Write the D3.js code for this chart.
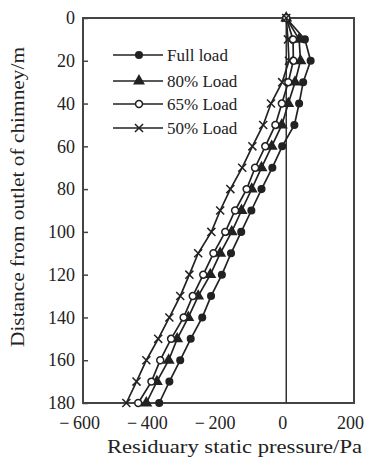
<!DOCTYPE html>
<html>
<head>
<meta charset="utf-8">
<script src="https://cdn.jsdelivr.net/npm/d3@7"></script>
<style>
  body { margin: 0; background: #fff; }
  svg { display: block; font-family: "Liberation Serif", "Times New Roman", serif; }
</style>
</head>
<body>
<div id="chart"></div>
<script>
// distance from outlet (m)
const depths = [0, 10, 20, 30, 40, 50, 60, 70, 80, 90, 100, 110, 120, 130, 140, 150, 160, 170, 180];

// residuary static pressure (Pa)
const fullLoad = [0, 55, 72, 50, 38, 24, -12, -41, -73, -103, -133, -163, -190, -222, -248, -282, -313, -345, -375];
const load80 = [0, 38, 42, 26, 6, -13, -43, -73, -102, -132, -161, -195, -224, -260, -289, -322, -347, -382, -413];
const load65 = [0, 20, 21, 6, -13, -32, -62, -92, -117, -151, -180, -215, -245, -276, -303, -340, -372, -398, -437];
const load50 = [0, 5, 8, -12, -45, -68, -100, -130, -165, -195, -221, -260, -286, -313, -345, -378, -413, -442, -472];

const seriesNames = ['Full load', '80% Load', '65% Load', '50% Load'];
const xTicks = [-600, -400, -200, 0, 200];
const yTicks = [0, 20, 40, 60, 80, 100, 120, 140, 160, 180];

const width = 371, height = 457;
const margin = {top: 18, right: 17, bottom: 54, left: 83};
const ink = '#222';

const svg = d3.select('#chart').append('svg')
  .attr('width', width)
  .attr('height', height);

const x = d3.scaleLinear().domain([-600, 200]).range([margin.left, width - margin.right]);
const y = d3.scaleLinear().domain([0, 180]).range([margin.top, height - margin.bottom]);

// frame
svg.append('rect')
  .attr('x', x(-600)).attr('y', y(0))
  .attr('width', x(200) - x(-600)).attr('height', y(180) - y(0))
  .attr('fill', 'none').attr('stroke', '#444').attr('stroke-width', 2);

// zero line
svg.append('line')
  .attr('x1', x(0)).attr('x2', x(0))
  .attr('y1', y(0)).attr('y2', y(180))
  .attr('stroke', '#333').attr('stroke-width', 1.5);

// axes
const fmtX = d => d < 0 ? '\u2212\u2009' + Math.abs(d) : String(d);
const xAxis = svg.append('g')
  .attr('transform', 'translate(0,' + y(180) + ')')
  .call(d3.axisBottom(x).tickValues(xTicks).tickSize(0).tickFormat(fmtX));
xAxis.select('.domain').remove();
xAxis.selectAll('text')
  .attr('y', 0)
  .attr('dy', 26)
  .attr('dx', -4)
  .attr('font-size', 18)
  .attr('font-family', '"Liberation Serif", serif')
  .attr('fill', ink);

const yAxis = svg.append('g')
  .attr('transform', 'translate(' + x(-600) + ',0)')
  .call(d3.axisLeft(y).tickValues(yTicks).tickSize(-5).tickPadding(8));
yAxis.select('.domain').remove();
yAxis.selectAll('line').attr('stroke', '#444').attr('stroke-width', 1.5);
yAxis.selectAll('text')
  .attr('font-size', 18)
  .attr('font-family', '"Liberation Serif", serif')
  .attr('fill', ink);

// axis titles
svg.append('text')
  .attr('x', 107).attr('y', 453)
  .attr('textLength', 255)
  .attr('lengthAdjust', 'spacingAndGlyphs')
  .attr('font-size', 18)
  .attr('fill', ink)
  .text('Residuary static pressure/Pa');

svg.append('text')
  .attr('transform', 'translate(24,347) rotate(-90)')
  .attr('textLength', 300)
  .attr('lengthAdjust', 'spacingAndGlyphs')
  .attr('font-size', 18)
  .attr('fill', ink)
  .text('Distance from outlet of chimney/m');

// series
const series = [fullLoad, load80, load65, load50].map((vals, i) => ({
  name: seriesNames[i],
  points: vals.map((v, j) => ({p: v, d: depths[j]}))
}));

const markerStyle = [
  {type: d3.symbolCircle, size: 34, fill: ink, stroke: ink},
  {type: d3.symbolTriangle, size: 38, fill: ink, stroke: ink},
  {type: d3.symbolCircle, size: 38, fill: '#fff', stroke: ink},
  {type: d3.symbolTimes, size: 44, fill: 'none', stroke: ink}
];

const line = d3.line().x(d => x(d.p)).y(d => y(d.d));

series.forEach((s, i) => {
  const g = svg.append('g');
  g.append('path')
    .datum(s.points)
    .attr('d', line)
    .attr('fill', 'none')
    .attr('stroke', ink)
    .attr('stroke-width', 1.7);

  const m = markerStyle[i];
  g.selectAll('path.mk')
    .data(s.points)
    .enter().append('path')
    .attr('class', 'mk')
    .attr('transform', d => 'translate(' + x(d.p) + ',' + y(d.d) + ')')
    .attr('d', d3.symbol().type(m.type).size(m.size))
    .attr('fill', m.fill)
    .attr('stroke', m.stroke)
    .attr('stroke-width', 1.5);
});

// legend
const legendY = [55, 81, 104, 128];
const legend = svg.append('g')
  .selectAll('g')
  .data(series)
  .enter().append('g')
  .attr('transform', (d, i) => 'translate(0,' + legendY[i] + ')');

legend.append('line')
  .attr('x1', 113).attr('x2', 163)
  .attr('y1', 0).attr('y2', 0)
  .attr('stroke', ink).attr('stroke-width', 1.7);

legend.append('path')
  .attr('transform', 'translate(139,0)')
  .attr('d', (d, i) => d3.symbol().type(markerStyle[i].type).size(markerStyle[i].size)())
  .attr('fill', (d, i) => markerStyle[i].fill)
  .attr('stroke', (d, i) => markerStyle[i].stroke)
  .attr('stroke-width', 1.5);

legend.append('text')
  .attr('x', 167)
  .attr('dy', '0.35em')
  .attr('font-size', 17)
  .attr('fill', ink)
  .text(d => d.name);
</script>
</body>
</html>
